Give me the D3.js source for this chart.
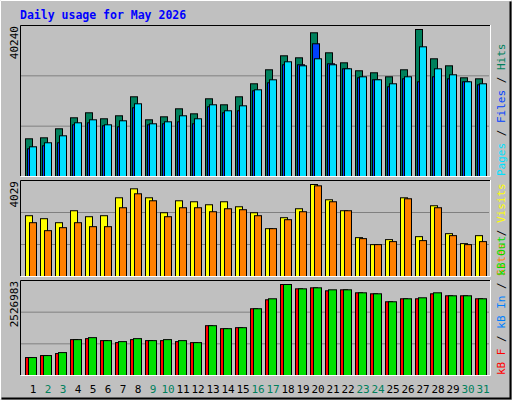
<!DOCTYPE html>
<html><head><meta charset="utf-8">
<script src="https://cdn.jsdelivr.net/npm/d3@7"></script>
<style>body{margin:0;background:#fff}text{font-family:"DejaVu Sans Mono",monospace}</style>
</head><body><div id="chart"></div>
<script>
var days = d3.range(1, 32);
var weekends = [2, 3, 9, 10, 16, 17, 23, 24, 30, 31];
var hits = [10320,10590,13060,16070,17440,15800,16620,21820,15520,16340,18530,17160,21270,19630,21820,25380,29210,33040,32490,39340,33860,31120,28940,28390,27290,29210,40240,32220,30300,27020,26740];
var files = [7580,8400,9230,14150,14700,13880,13600,18810,14150,14430,14970,14430,19080,17440,17990,23460,25650,30580,30580,36330,30850,29480,27020,26470,24560,26740,25920,27290,26740,25920,25100];
var pages = [8130,9230,11140,14700,15520,14150,15250,19900,14430,14970,16620,15800,19630,17990,19350,23730,26470,31400,30300,32220,30580,29480,27290,26470,25380,27290,35500,29480,27840,25920,25380];
var visits = [2662,2531,2356,2880,2618,2662,3447,3840,3447,2793,3316,3273,3142,3273,3054,2793,2095,2575,2967,4029,3360,2880,1702,1396,1615,3447,1745,3098,1876,1440,1789];
var sites = [2356,2007,2138,2356,2182,2182,3011,3622,3316,2618,3011,3011,2836,2967,2924,2662,2095,2487,2836,3971,3273,2880,1658,1396,1527,3404,1571,3011,1789,1396,1527];
var kbF = [498000,553300,608600,996000,1023600,968300,913000,996000,968300,968300,940600,913000,1383300,1300300,1328000,1853600,2102600,2526983,2406900,2434600,2351600,2379300,2296300,2268600,2047300,2130300,2130300,2268600,2213300,2213300,2130300];
var kbOut = [498000,553300,636300,996000,1051300,968300,940600,1023600,968300,996000,968300,913000,1383300,1300300,1328000,1853600,2130300,2526983,2406900,2434600,2379300,2379300,2296300,2268600,2047300,2130300,2157900,2296300,2213300,2213300,2130300];

var W = 512, H = 400;
var svg = d3.select("#chart").append("svg").attr("width", W).attr("height", H);

// outer 3D frame
svg.append("rect").attr("width", W).attr("height", H).attr("fill", "#c0c0c0");
svg.append("path").attr("d", "M0.5,399.5V0.5H511.5").attr("stroke", "#fff").attr("fill", "none");
svg.append("path").attr("d", "M1.5,398.5H510.5V1.5").attr("stroke", "#000").attr("stroke-width", 2).attr("fill", "none");

svg.append("text").attr("x", 20).attr("y", 19).attr("fill", "#0000ff")
  .attr("font-weight", "bold").attr("font-size", 11.5).text("Daily usage for May 2026");

var x = d3.scaleLinear().domain([1, 31]).range([25, 475]);

function panel(top, bottom, maxVal, maxTop, label, series, rightLabels) {
  svg.append("rect").attr("x", 20).attr("y", top).attr("width", 470).attr("height", bottom - top)
    .attr("fill", "#c0c0c0");
  var y = d3.scaleLinear().domain([0, maxVal]).range([bottom, maxTop]);
  var h = bottom - top;
  [1, 2].forEach(function(k) {
    svg.append("line").attr("x1", 21).attr("x2", 489)
      .attr("y1", bottom - h * k / 3 + 0.5).attr("y2", bottom - h * k / 3 + 0.5)
      .attr("stroke", "#808080");
  });
  series.forEach(function(s) {
    svg.append("g").selectAll("rect").data(s.data).enter().append("rect")
      .attr("x", (d, i) => x(i + 1) + s.dx + 0.5)
      .attr("y", d => y(d) + 0.5)
      .attr("width", s.w)
      .attr("height", d => bottom - y(d))
      .attr("fill", s.color).attr("stroke", "#000");
  });
  svg.append("path").attr("d", `M20.5,${bottom}V${top + 0.5}H490`).attr("stroke", "#000").attr("fill", "none");
  svg.append("path").attr("d", `M20.5,${bottom + 0.5}H490.5V${top}`).attr("stroke", "#fff").attr("fill", "none");
  svg.append("text").attr("transform", `translate(18,${top + 1}) rotate(-90)`)
    .attr("text-anchor", "end").attr("font-size", 11).attr("fill", "#000").text(label);
  var t = svg.append("text").attr("transform", `translate(496,${bottom}) rotate(-90)`)
    .attr("font-size", 11).attr("dy", "0.8em");
  rightLabels.forEach(function(r, i) {
    if (i > 0) t.append("tspan").attr("fill", "#000").text(" / ");
    t.append("tspan").attr("fill", r[1]).text(r[0]);
  });
}

panel(25, 176, 40240, 29, "40240", [
  {data: hits, color: "#00805c", dx: 0, w: 7},
  {data: files, color: "#0040ff", dx: 2, w: 7},
  {data: pages, color: "#00e0ff", dx: 4, w: 7}
], [["Pages", "#00e0ff"], ["Files", "#0040ff"], ["Hits", "#00805c"]]);

panel(180, 276, 4029, 184, "4029", [
  {data: visits, color: "#ffff00", dx: 0, w: 7},
  {data: sites, color: "#ff8000", dx: 4, w: 7}
], [["Sites", "#ff8000"], ["Visits", "#ffff00"]]);

panel(280, 375, 2526983, 284, "2526983", [
  {data: kbF, color: "#ff0000", dx: 0, w: 7},
  {data: kbOut, color: "#00e000", dx: 3, w: 8}
], [["kB F", "#ff0000"], ["kB In", "#0080ff"], ["kB Out", "#00e000"]]);

svg.append("g").selectAll("text").data(days).enter().append("text")
  .attr("x", d => x(d) + 8).attr("y", 393).attr("text-anchor", "middle")
  .attr("font-size", 11)
  .attr("fill", d => weekends.includes(d) ? "#00805c" : "#000")
  .text(d => d);
</script></body></html>
